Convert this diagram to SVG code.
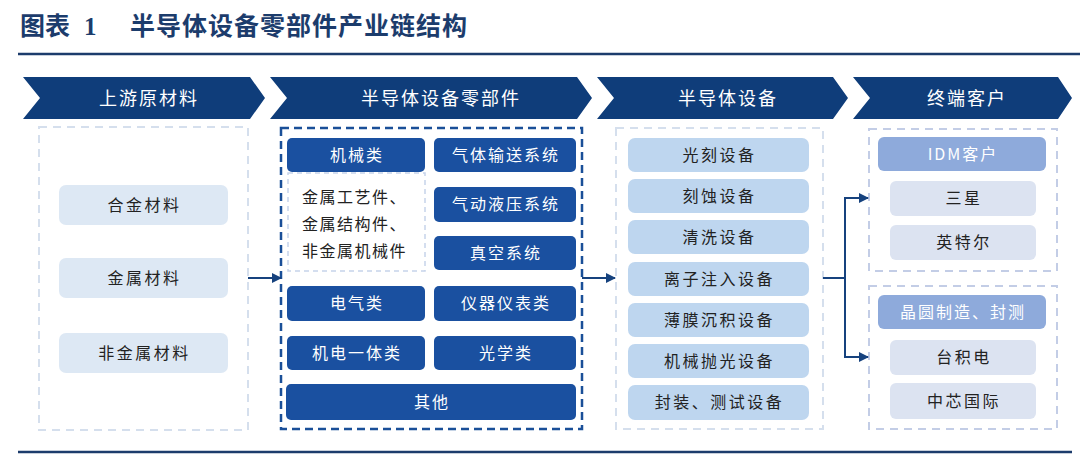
<svg xmlns="http://www.w3.org/2000/svg" width="1080" height="463" viewBox="0 0 1080 463">
<defs>
<marker id="ah" viewBox="0 0 10 10" refX="9" refY="5" markerWidth="5" markerHeight="5" orient="auto" markerUnits="strokeWidth">
<path d="M0,0 L10,5 L0,10 z" fill="#16427e"/>
</marker>
<style>
.title{font-family:"Liberation Serif","Noto Sans CJK SC",serif;font-weight:bold;font-size:25px;fill:#1c3c6c}
.chev{fill:#0f3d7a}
.chevt{font-family:"Noto Sans CJK SC",sans-serif;font-size:18px;fill:#fff;text-anchor:middle;letter-spacing:2px}
.lbox{fill:none;stroke:#d5dfed;stroke-width:2;stroke-dasharray:8 6}
.pbox{fill:none;stroke:#c3cde6;stroke-width:2;stroke-dasharray:8 6}
.dbox{fill:none;stroke:#1a4f98;stroke-width:2.5;stroke-dasharray:8 5}
.ibox{fill:none;stroke:#c6d3ea;stroke-width:1.5;stroke-dasharray:5 4}
.p1{fill:#dde8f4}
.p3{fill:#bed6ef}
.b2{fill:#1a50a0}
.h4{fill:#8eaadb}
.p4{fill:#dce3f1}
.dt{font-family:"Noto Sans CJK SC",sans-serif;font-size:16px;fill:#222;text-anchor:middle;letter-spacing:2.5px}
.wt{font-family:"Noto Sans CJK SC",sans-serif;font-size:16px;fill:#fff;text-anchor:middle;letter-spacing:2px}
.lt{font-family:"Noto Sans CJK SC",sans-serif;font-size:16px;fill:#222;letter-spacing:1.5px}
.rule{stroke:#1c3c6c;stroke-width:2.5}
.conn{fill:none;stroke:#16427e;stroke-width:2}
</style>
</defs>
<rect width="1080" height="463" fill="#fff"/>
<text class="title" x="20" y="35">图表 <tspan x="84">1</tspan></text>
<text class="title" x="130" y="35" style="letter-spacing:1px">半导体设备零部件产业链结构</text>
<line class="rule" x1="18" y1="54" x2="1080" y2="54"/>
<line class="rule" x1="18" y1="452" x2="1072" y2="452"/>

<g id="header-upstream">
<polygon class="chev" points="23,77 250,77 265,98 250,119 23,119 40,98"/>
<text class="chevt" x="149" y="105">上游原材料</text>
</g>
<g id="header-parts">
<polygon class="chev" points="270,77 577,77 592,98 577,119 270,119 287,98"/>
<text class="chevt" x="441" y="105">半导体设备零部件</text>
</g>
<g id="header-equipment">
<polygon class="chev" points="597,77 833,77 848,98 833,119 597,119 614,98"/>
<text class="chevt" x="728" y="105">半导体设备</text>
</g>
<g id="header-customers">
<polygon class="chev" points="853,77 1058,77 1072,98 1058,119 853,119 870,98"/>
<text class="chevt" x="967" y="105">终端客户</text>
</g>

<g id="col-upstream">
<rect class="lbox" x="39" y="127" width="209" height="303"/>
<g id="n-alloy"><rect class="p1" x="59" y="185" width="169" height="40" rx="7"/><text class="dt" x="144.5" y="211">合金材料</text></g>
<g id="n-metal"><rect class="p1" x="59" y="258" width="169" height="40" rx="7"/><text class="dt" x="144.5" y="284">金属材料</text></g>
<g id="n-nonmetal"><rect class="p1" x="59" y="333" width="169" height="40" rx="7"/><text class="dt" x="144.5" y="359">非金属材料</text></g>
</g>

<g id="col-parts">
<rect class="dbox" x="281" y="128" width="301" height="301"/>
<g id="n-mech"><rect class="b2" x="287" y="138" width="138" height="34" rx="5"/><text class="wt" x="357" y="161">机械类</text></g>
<g id="n-mech-detail"><rect class="ibox" x="288" y="173" width="137" height="98"/>
<text class="lt" x="302" y="203">金属工艺件、</text>
<text class="lt" x="302" y="230">金属结构件、</text>
<text class="lt" x="302" y="257">非金属机械件</text></g>
<g id="n-gas"><rect class="b2" x="434" y="138" width="142" height="34" rx="5"/><text class="wt" x="506" y="161">气体输送系统</text></g>
<g id="n-hyd"><rect class="b2" x="434" y="187" width="142" height="35" rx="5"/><text class="wt" x="506" y="210">气动液压系统</text></g>
<g id="n-vac"><rect class="b2" x="434" y="236" width="142" height="34" rx="5"/><text class="wt" x="506" y="259">真空系统</text></g>
<g id="n-elec"><rect class="b2" x="287" y="286" width="138" height="35" rx="5"/><text class="wt" x="357" y="309">电气类</text></g>
<g id="n-inst"><rect class="b2" x="434" y="286" width="142" height="35" rx="5"/><text class="wt" x="506" y="309">仪器仪表类</text></g>
<g id="n-mechatronic"><rect class="b2" x="287" y="336" width="138" height="34" rx="5"/><text class="wt" x="357" y="359">机电一体类</text></g>
<g id="n-optic"><rect class="b2" x="434" y="336" width="142" height="34" rx="5"/><text class="wt" x="506" y="359">光学类</text></g>
<g id="n-other"><rect class="b2" x="286" y="384" width="290" height="36" rx="5"/><text class="wt" x="432" y="408">其他</text></g>
</g>

<g id="col-equipment">
<rect class="lbox" x="616" y="128" width="207" height="301"/>
<g id="n-litho"><rect class="p3" x="628" y="138" width="181" height="34" rx="7"/><text class="dt" x="719.5" y="161">光刻设备</text></g>
<g id="n-etch"><rect class="p3" x="628" y="179" width="181" height="34" rx="7"/><text class="dt" x="719.5" y="202">刻蚀设备</text></g>
<g id="n-clean"><rect class="p3" x="628" y="220" width="181" height="34" rx="7"/><text class="dt" x="719.5" y="243">清洗设备</text></g>
<g id="n-ion"><rect class="p3" x="628" y="262" width="181" height="34" rx="7"/><text class="dt" x="719.5" y="285">离子注入设备</text></g>
<g id="n-film"><rect class="p3" x="628" y="303" width="181" height="34" rx="7"/><text class="dt" x="719.5" y="326">薄膜沉积设备</text></g>
<g id="n-cmp"><rect class="p3" x="628" y="344" width="181" height="34" rx="7"/><text class="dt" x="719.5" y="367">机械抛光设备</text></g>
<g id="n-pack"><rect class="p3" x="628" y="385" width="181" height="35" rx="7"/><text class="dt" x="719.5" y="408">封装、测试设备</text></g>
</g>

<g id="col-idm">
<rect class="pbox" x="869" y="129" width="188" height="142"/>
<g id="n-idm"><rect class="h4" x="878" y="137" width="168" height="34" rx="6"/><text class="wt" x="963" y="160">IDM客户</text></g>
<g id="n-samsung"><rect class="p4" x="890" y="181" width="146" height="35" rx="6"/><text class="dt" x="964" y="204">三星</text></g>
<g id="n-intel"><rect class="p4" x="890" y="225" width="146" height="35" rx="6"/><text class="dt" x="964" y="248">英特尔</text></g>
</g>
<g id="col-foundry">
<rect class="pbox" x="869" y="286" width="188" height="143"/>
<g id="n-foundry"><rect class="h4" x="878" y="295" width="168" height="34" rx="6"/><text class="wt" x="963" y="318">晶圆制造、封测</text></g>
<g id="n-tsmc"><rect class="p4" x="890" y="340" width="146" height="35" rx="6"/><text class="dt" x="964" y="363">台积电</text></g>
<g id="n-smic"><rect class="p4" x="890" y="383" width="146" height="36" rx="6"/><text class="dt" x="964" y="407">中芯国际</text></g>
</g>

<g id="connectors">
<line class="conn" x1="248" y1="278" x2="281" y2="278" marker-end="url(#ah)"/>
<line class="conn" x1="582" y1="278" x2="615" y2="278" marker-end="url(#ah)"/>
<polyline class="conn" points="823,278 845,278"/>
<polyline class="conn" points="845,198 845,357"/>
<line class="conn" x1="844" y1="198" x2="868" y2="198" marker-end="url(#ah)"/>
<line class="conn" x1="844" y1="357" x2="868" y2="357" marker-end="url(#ah)"/>
</g>
</svg>
